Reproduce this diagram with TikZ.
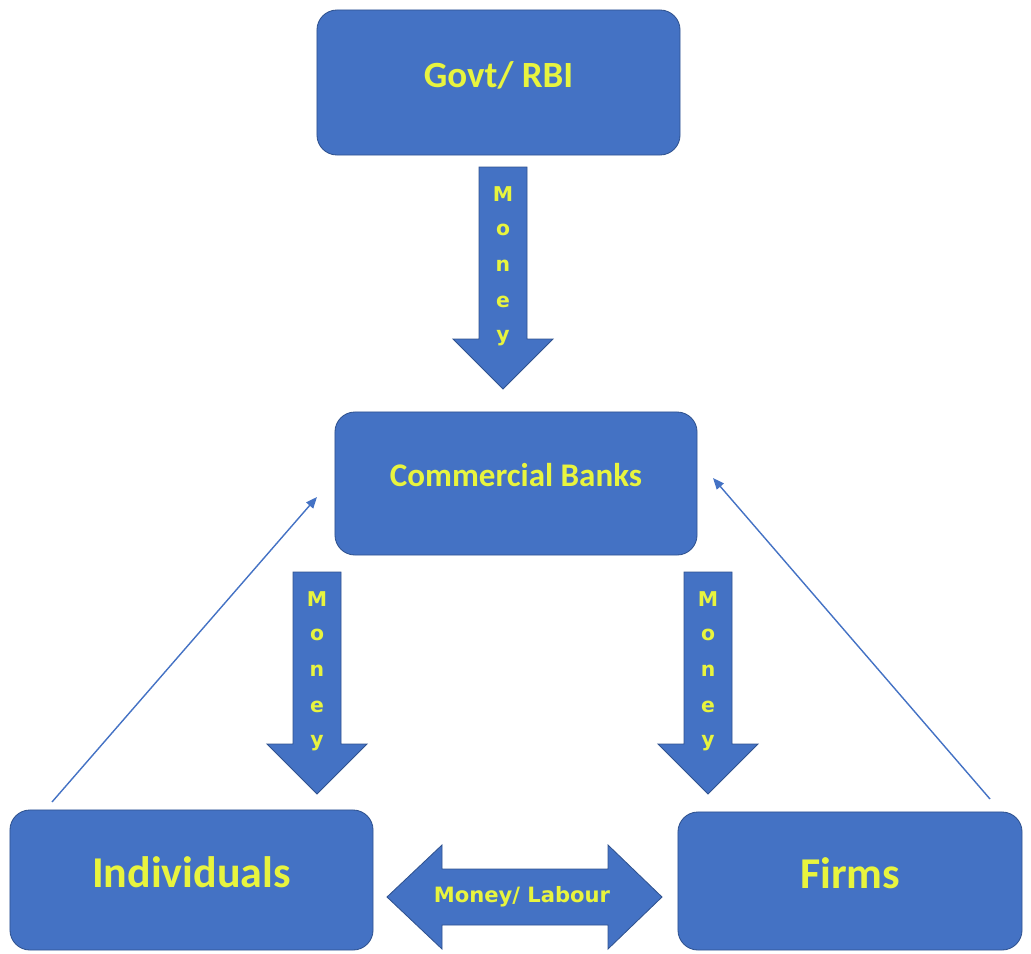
\documentclass[tikz,border=0pt]{standalone}
\usepackage{fontspec}
\setmainfont{Carlito}
\newfontfamily\arrowfont{DejaVu Sans}
\usetikzlibrary{arrows.meta}

\definecolor{boxblue}{HTML}{4472C4}
\definecolor{boxedge}{HTML}{2F528F}
\definecolor{labelyellow}{RGB}{232,244,62}

\tikzset{
  box/.style={draw=boxedge, line width=0.6pt, fill=boxblue, rounded corners=0.5cm, text=labelyellow, text depth=0.42cm},
  fatarrow/.style={draw=boxedge, line width=0.6pt, fill=boxblue},
  letter/.style={text=labelyellow, font=\arrowfont\bfseries\fontsize{14.5}{16}\selectfont, inner sep=0pt},
  thinarrow/.style={-{Triangle[length=8pt,width=6.5pt]}, draw=boxblue, line width=1pt},
}

\begin{document}
\begin{tikzpicture}[x=0.025cm, y=-0.025cm]
    \useasboundingbox (0,0) rectangle (1031,953);

    % Boxes
    \node[box, minimum width=9.075cm, minimum height=3.625cm, font=\bfseries\fontsize{26.3}{30}\selectfont] (govt) at (498.5,82.5) {Govt/ RBI};
    \node[box, minimum width=9.05cm, minimum height=3.575cm, font=\bfseries\fontsize{23.5}{27}\selectfont] (banks) at (516,483.5) {Commercial Banks};
    \node[box, minimum width=9.075cm, minimum height=3.5cm, font=\bfseries\fontsize{31.3}{36}\selectfont] (indiv) at (191.5,880) {Individuals};
    \node[box, minimum width=8.6cm, minimum height=3.45cm, font=\bfseries\fontsize{31.3}{36}\selectfont] (firms) at (850,881) {Firms};

    % Money arrows, letters stacked down the shaft
    \foreach \x/\y/\n in {503/167/top, 317/572/left, 708/572/right} {
        \draw[fatarrow] (\x-24,\y) -- ++(48,0) -- ++(0,172) -- ++(26,0) -- (\x,\y+222) -- (\x-50,\y+172) -- ++(26,0) -- cycle;
        \foreach \c [count=\k] in {M,o,n,e,y}
            \node[letter] (\n\k) at (\x,\y+27+36*\k-36) {\c};
    }

    % Two-way arrow between individuals and firms
    \draw[fatarrow] (387,897) -- (442,845) -- (442,869) -- (608,869) -- (608,845) -- (662,897)
        -- (608,949) -- (608,925) -- (442,925) -- (442,949) -- cycle;
    \node[text=labelyellow, font=\arrowfont\bfseries\fontsize{15}{18}\selectfont] (flow) at (522,897) {Money/ Labour};

    % Thin arrows back up to the banks
    \coordinate (indivfoot) at (52,802);
    \coordinate (banksleft) at (317,497);
    \coordinate (firmsfoot) at (990,799);
    \coordinate (banksright) at (713,478);
    \draw[thinarrow] (indivfoot) -- (banksleft);
    \draw[thinarrow] (firmsfoot) -- (banksright);
\end{tikzpicture}
\end{document}
